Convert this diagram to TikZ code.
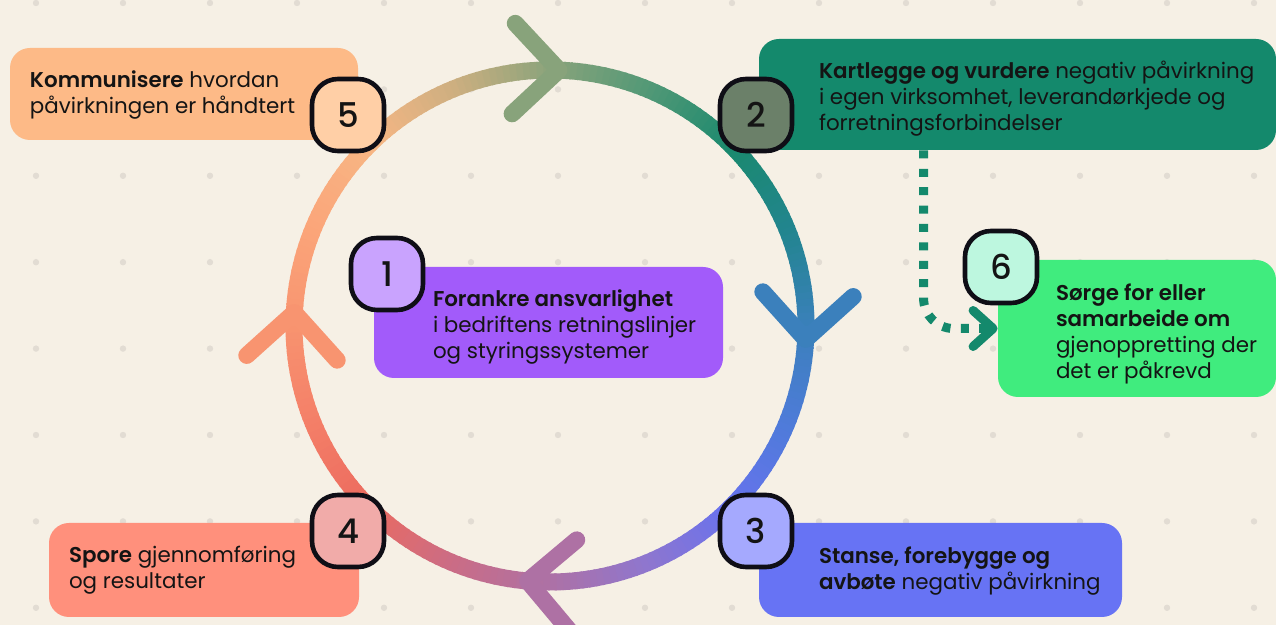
\documentclass[tikz,border=0pt]{standalone}
\usepackage{fontspec}
\setmainfont{Poppins}[BoldFont={Poppins SemiBold}]
\newfontfamily\numfont{Poppins Medium}
\usetikzlibrary{positioning,calc,arrows.meta}
\definecolor{paper}{HTML}{F6F0E5}
\definecolor{dotc}{HTML}{E2DCD3}
\definecolor{ink}{HTML}{141414}
\definecolor{rim}{HTML}{0F0E16}
\definecolor{boxA}{HTML}{A25BFA}\definecolor{numA}{HTML}{C9A3FE}
\definecolor{boxB}{HTML}{14896C}\definecolor{numB}{HTML}{6B8069}
\definecolor{boxC}{HTML}{6773F4}\definecolor{numC}{HTML}{A5A9FE}
\definecolor{boxD}{HTML}{FF907C}\definecolor{numD}{HTML}{F1ABA9}
\definecolor{boxE}{HTML}{FDBA87}\definecolor{numE}{HTML}{FFCFA6}
\definecolor{boxF}{HTML}{40EC7E}\definecolor{numF}{HTML}{BDF7DF}
% ring colours, clockwise from the top
\definecolor{r0}{HTML}{88A37B}\definecolor{r1}{HTML}{509876}
\definecolor{r2}{HTML}{1A896E}\definecolor{r3}{HTML}{22858F}
\definecolor{r4}{HTML}{3B80BC}\definecolor{r5}{HTML}{4F7BDA}
\definecolor{r6}{HTML}{6872EE}\definecolor{r7}{HTML}{8F76CE}
\definecolor{r8}{HTML}{AE71A4}\definecolor{r9}{HTML}{CC6C84}
\definecolor{r10}{HTML}{EC6B5F}\definecolor{r11}{HTML}{F47F68}
\definecolor{r12}{HTML}{F89470}\definecolor{r13}{HTML}{FBA67A}
\definecolor{r14}{HTML}{F7B684}\definecolor{r15}{HTML}{CDAF80}

\begin{document}
\begin{tikzpicture}[x=0.5pt,y=-0.5pt,
    stepbox/.style={rounded corners=10pt,inner sep=0pt},
    badge/.style={draw=rim,line width=2.3pt,rounded corners=13pt,minimum size=36pt,inner sep=0pt,text=ink,font=\numfont\fontsize{17}{17}\selectfont},
    steptext/.style={anchor=west,inner sep=0pt,align=left,text=ink,font=\fontsize{10.7}{13}\selectfont},
    chev/.style={line width=8.5pt,line cap=round,line join=round}]
  \fill[paper] (0,0) rectangle (1276,625);
  \useasboundingbox (0,0) rectangle (1276,625);
  \foreach \i in {0,...,14}
    \foreach \j in {0,...,7}
      \fill[dotc] (36+87*\i,3+86.4*\j) circle (1.6pt);

  % the ring
  \coordinate (hub) at (550,326);
  \foreach \ca/\cb [count=\k from 0] in {r0/r1,r1/r2,r2/r3,r3/r4,r4/r5,r5/r6,r6/r7,r7/r8,r8/r9,r9/r10,r10/r11,r11/r12,r12/r13,r13/r14,r14/r15,r15/r0}
    \foreach \i in {0,...,14}{
      \pgfmathsetmacro{\a}{270+22.5*\k+1.5*\i}
      \pgfmathsetmacro{\p}{100-\i*100/15}
      \draw[line width=8.5pt,\ca!\p!\cb] ($(hub)+(\a:256)$) arc[start angle=\a,delta angle=2,radius=256];
    }
  \coordinate (tipT) at ($(hub)+(272:256)$);
  \coordinate (tipR) at ($(hub)+(3:256)$);
  \coordinate (tipB) at ($(hub)+(95:256)$);
  \coordinate (tipL) at ($(hub)+(183:256)$);
  \draw[chev,color=r0] ($(tipT)+(227:64)$) -- (tipT) -- ($(tipT)+(137:64)$);
  \draw[chev,color=r4] ($(tipR)+(-42:64)$) -- (tipR) -- ($(tipR)+(-132:64)$);
  \draw[chev,color=r8] ($(tipB)+(50:64)$) -- (tipB) -- ($(tipB)+(-40:64)$);
  \draw[chev,color=r12] ($(tipL)+(138:64)$) -- (tipL) -- ($(tipL)+(48:64)$);

  % boxes
  \node[stepbox,fill=boxE,minimum width=174pt,minimum height=46pt] (box5) at (184,94) {};
  \node[stepbox,fill=boxB,minimum width=258.5pt,minimum height=55.5pt] (box2) at (1017.5,94.5) {};
  \node[stepbox,fill=boxF,minimum width=139pt,minimum height=68.5pt] (box6) at (1137,328.5) {};
  \node[stepbox,fill=boxA,minimum width=174.5pt,minimum height=55.5pt] (box1) at (548.5,322.5) {};
  \node[stepbox,fill=boxD,minimum width=155pt,minimum height=47pt] (box4) at (204,570) {};
  \node[stepbox,fill=boxC,minimum width=181.5pt,minimum height=47pt] (box3) at (940.5,570) {};

  \draw[boxB,line width=4.5pt,dash pattern=on 4pt off 5.2pt,rounded corners=15pt,-{Straight Barb[length=10pt,width=18pt,round]}]
    ($(box2.south west)+(165,0)$) |- (box6.west);

  % badges
  \node[badge,fill=numE] (num5) at (348,115) {5};
  \node[badge,fill=numA] (num1) at (387,274) {1};
  \node[badge,fill=numB] (num2) at (756,115) {2};
  \node[badge,fill=numF] (num6) at (1001,267) {6};
  \node[badge,fill=numC] (num3) at (756,531) {3};
  \node[badge,fill=numD] (num4) at (348,531) {4};

  % texts
  \node[steptext] (txt5) at ([xshift=10pt,yshift=-0.3pt]box5.west) {\textbf{Kommunisere} hvordan\\påvirkningen er håndtert};
  \node[steptext] (txt2) at ([xshift=30pt,yshift=-2pt]box2.west) {\textbf{Kartlegge og vurdere} negativ påvirkning\\i egen virksomhet, leverandørkjede og\\forretningsforbindelser};
  \node[steptext] (txt6) at ([xshift=29pt,yshift=-2.5pt]box6.west) {\textbf{Sørge for eller}\\\textbf{samarbeide om}\\gjenoppretting der\\det er påkrevd};
  \node[steptext] (txt1) at ([xshift=29.5pt,yshift=-2.2pt]box1.west) {\textbf{Forankre ansvarlighet}\\i bedriftens retningslinjer\\og styringssystemer};
  \node[steptext] (txt4) at ([xshift=10pt,yshift=-0.3pt]box4.west) {\textbf{Spore} gjennomføring\\og resultater};
  \node[steptext] (txt3) at ([xshift=30pt,yshift=-0.3pt]box3.west) {\textbf{Stanse, forebygge og}\\\textbf{avbøte} negativ påvirkning};
\end{tikzpicture}
\end{document}
